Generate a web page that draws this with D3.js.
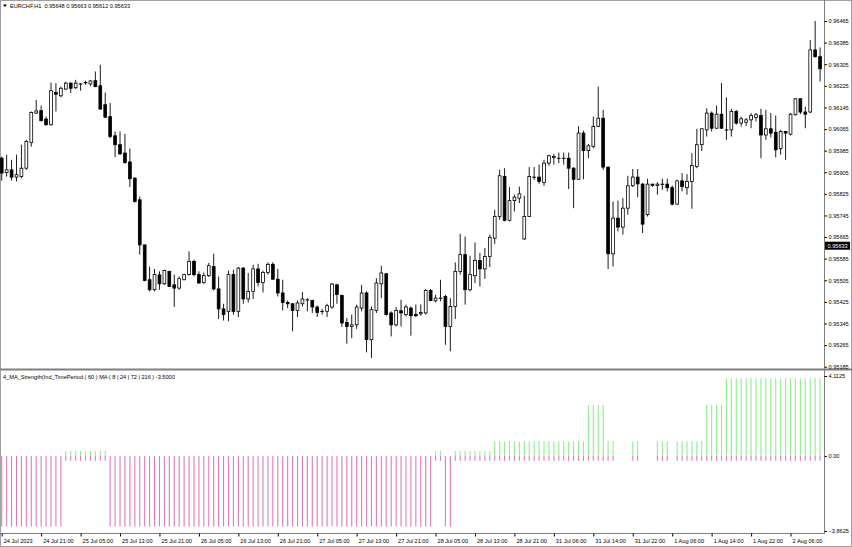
<!DOCTYPE html>
<html>
<head>
<meta charset="utf-8">
<script src="https://cdn.jsdelivr.net/npm/d3@7"></script>
<style>
  body { margin: 0; background: #fff; }
  svg text { font-family: "Liberation Sans", Arial, sans-serif; }
</style>
</head>
<body>
<svg id="chart" width="852" height="547"></svg>
<script>
'use strict';

// EURCHF H1 candles, one entry per bar (24 Jul 13:00 .. 2 Aug 12:00).
var open = [
  0.95957,0.95904,0.95914,0.95887,0.95889,0.95920,0.96015,0.96124,0.96133,0.96102,
  0.96081,0.96200,0.96188,0.96213,0.96235,0.96218,0.96232,0.96237,0.96232,0.96244,
  0.96225,0.96155,0.96111,0.96040,0.96007,0.95976,0.95943,0.95883,0.95803,0.95636,
  0.95507,0.95470,0.95525,0.95492,0.95538,0.95488,0.95476,0.95507,0.95526,0.95575,
  0.95526,0.95497,0.95522,0.95556,0.95473,0.95399,0.95390,0.95526,0.95390,0.95550,
  0.95436,0.95464,0.95547,0.95497,0.95534,0.95564,0.95509,0.95458,0.95423,0.95418,
  0.95393,0.95418,0.95433,0.95430,0.95406,0.95390,0.95390,0.95406,0.95488,0.95449,
  0.95349,0.95334,0.95340,0.95402,0.95458,0.95285,0.95393,0.95492,0.95529,0.95384,
  0.95340,0.95392,0.95378,0.95402,0.95378,0.95381,0.95384,0.95467,0.95429,0.95439,
  0.95445,0.95334,0.95408,0.95538,0.95600,0.95470,0.95522,0.95578,0.95547,0.95593,
  0.95661,0.95741,0.95889,0.95727,0.95800,0.95809,0.95658,0.95741,0.95887,0.95887,
  0.95867,0.95939,0.95960,0.95957,0.95957,0.95957,0.95920,0.95879,0.96050,0.95985,
  0.96000,0.96075,0.96105,0.95924,0.95603,0.95735,0.95702,0.95772,0.95855,0.95887,
  0.95861,0.95748,0.95861,0.95856,0.95861,0.95861,0.95848,0.95787,0.95873,0.95848,
  0.95871,0.95926,0.96007,0.96062,0.96124,0.96068,0.96120,0.96062,0.96062,0.96130,
  0.96087,0.96090,0.96099,0.96108,0.96115,0.96043,0.96066,0.96053,0.95992,0.96056,
  0.96046,0.96118,0.96177,0.96128,0.96128,0.96358,0.96333
];
var high = [
  0.95963,0.95970,0.95951,0.95970,0.96007,0.96025,0.96130,0.96173,0.96152,0.96111,
  0.96237,0.96235,0.96222,0.96240,0.96238,0.96247,0.96235,0.96244,0.96247,0.96278,
  0.96303,0.96200,0.96161,0.96056,0.96056,0.96047,0.95993,0.95887,0.95815,0.95636,
  0.95556,0.95547,0.95538,0.95544,0.95540,0.95526,0.95519,0.95529,0.95612,0.95581,
  0.95538,0.95534,0.95569,0.95603,0.95519,0.95418,0.95541,0.95544,0.95554,0.95554,
  0.95532,0.95563,0.95566,0.95541,0.95571,0.95572,0.95547,0.95507,0.95430,0.95421,
  0.95430,0.95461,0.95439,0.95433,0.95411,0.95399,0.95418,0.95495,0.95492,0.95452,
  0.95365,0.95378,0.95415,0.95488,0.95464,0.95408,0.95513,0.95559,0.95532,0.95390,
  0.95406,0.95433,0.95415,0.95408,0.95415,0.95415,0.95473,0.95473,0.95451,0.95507,
  0.95451,0.95439,0.95571,0.95677,0.95667,0.95596,0.95645,0.95606,0.95624,0.95674,
  0.95766,0.95914,0.95920,0.95850,0.95822,0.95852,0.95818,0.95924,0.95924,0.95933,
  0.95951,0.95970,0.95973,0.95978,0.95978,0.95978,0.95924,0.96075,0.96059,0.96010,
  0.96111,0.96222,0.96136,0.95926,0.95797,0.95800,0.95809,0.95892,0.95917,0.95917,
  0.95865,0.95881,0.95862,0.95868,0.95881,0.95881,0.95856,0.95877,0.95902,0.95898,
  0.95976,0.96066,0.96068,0.96142,0.96130,0.96152,0.96235,0.96182,0.96140,0.96136,
  0.96111,0.96106,0.96124,0.96124,0.96140,0.96136,0.96124,0.96115,0.96062,0.96058,
  0.96124,0.96179,0.96179,0.96148,0.96395,0.96465,0.96367
];
var low = [
  0.95874,0.95889,0.95874,0.95871,0.95883,0.95914,0.96000,0.96121,0.96093,0.96077,
  0.96077,0.96130,0.96183,0.96210,0.96198,0.96213,0.96207,0.96229,0.96225,0.96220,
  0.96136,0.96105,0.96031,0.95961,0.95970,0.95936,0.95850,0.95793,0.95600,0.95501,
  0.95464,0.95464,0.95470,0.95488,0.95481,0.95406,0.95470,0.95505,0.95522,0.95519,
  0.95492,0.95492,0.95517,0.95467,0.95362,0.95356,0.95353,0.95378,0.95369,0.95418,
  0.95423,0.95436,0.95482,0.95460,0.95526,0.95507,0.95445,0.95393,0.95402,0.95316,
  0.95369,0.95408,0.95390,0.95384,0.95369,0.95378,0.95369,0.95399,0.95418,0.95332,
  0.95270,0.95291,0.95325,0.95390,0.95238,0.95217,0.95384,0.95439,0.95374,0.95297,
  0.95334,0.95334,0.95371,0.95300,0.95369,0.95374,0.95378,0.95427,0.95423,0.95427,
  0.95266,0.95242,0.95362,0.95526,0.95415,0.95464,0.95495,0.95482,0.95510,0.95554,
  0.95640,0.95729,0.95723,0.95723,0.95760,0.95791,0.95655,0.95739,0.95877,0.95862,
  0.95855,0.95929,0.95933,0.95939,0.95933,0.95843,0.95772,0.95877,0.95879,0.95957,
  0.95994,0.96072,0.95914,0.95547,0.95556,0.95686,0.95674,0.95748,0.95850,0.95812,
  0.95680,0.95741,0.95851,0.95822,0.95840,0.95834,0.95782,0.95785,0.95834,0.95822,
  0.95770,0.95920,0.95984,0.96037,0.96056,0.96066,0.96066,0.96025,0.96037,0.96081,
  0.96074,0.96077,0.96068,0.96093,0.95957,0.96025,0.96034,0.95960,0.95970,0.95951,
  0.96041,0.96115,0.96120,0.96068,0.96124,0.96329,0.96241
];
var close = [
  0.95902,0.95914,0.95887,0.95896,0.95920,0.96019,0.96126,0.96132,0.96096,0.96081,
  0.96207,0.96194,0.96216,0.96235,0.96216,0.96235,0.96232,0.96237,0.96243,0.96222,
  0.96139,0.96109,0.96037,0.96007,0.95973,0.95941,0.95881,0.95797,0.95636,0.95504,
  0.95470,0.95526,0.95492,0.95541,0.95482,0.95476,0.95511,0.95526,0.95575,0.95526,
  0.95495,0.95522,0.95559,0.95473,0.95399,0.95378,0.95526,0.95390,0.95550,0.95436,
  0.95464,0.95547,0.95497,0.95534,0.95564,0.95509,0.95458,0.95423,0.95418,0.95393,
  0.95421,0.95436,0.95433,0.95406,0.95386,0.95390,0.95411,0.95491,0.95452,0.95347,
  0.95334,0.95340,0.95406,0.95458,0.95285,0.95396,0.95495,0.95532,0.95378,0.95340,
  0.95393,0.95384,0.95406,0.95374,0.95374,0.95386,0.95467,0.95430,0.95439,0.95439,
  0.95334,0.95408,0.95538,0.95600,0.95470,0.95526,0.95578,0.95547,0.95593,0.95664,
  0.95741,0.95892,0.95727,0.95800,0.95813,0.95825,0.95741,0.95889,0.95887,0.95871,
  0.95939,0.95966,0.95963,0.95957,0.95957,0.95920,0.95879,0.96050,0.95985,0.96003,
  0.96075,0.96105,0.95924,0.95603,0.95735,0.95702,0.95772,0.95855,0.95887,0.95862,
  0.95713,0.95861,0.95856,0.95861,0.95861,0.95848,0.95787,0.95873,0.95852,0.95871,
  0.95930,0.96007,0.96066,0.96124,0.96068,0.96120,0.96068,0.96062,0.96130,0.96087,
  0.96103,0.96099,0.96115,0.96118,0.96043,0.96066,0.96050,0.95988,0.96056,0.96050,
  0.96120,0.96177,0.96128,0.96120,0.96358,0.96333,0.96288
];

// 4_MA_Strength histogram buffers (null = nothing drawn on that bar).
var strengthUp = [
  null,null,null,null,null,null,null,null,null,null,
  null,null,null,0.25,0.25,0.25,0.25,0.25,0.25,0.25,
  0.25,0.25,null,null,null,null,null,null,null,null,
  null,null,null,null,null,null,null,null,null,null,
  null,null,null,null,null,null,null,null,null,null,
  null,null,null,null,null,null,null,null,null,null,
  null,null,null,null,null,null,null,null,null,null,
  null,null,null,null,null,null,null,null,null,null,
  null,null,null,null,null,null,null,null,0.25,0.25,
  null,null,0.25,0.25,0.25,0.25,0.25,0.25,0.25,0.25,
  0.75,0.75,0.75,0.75,0.75,0.75,0.75,0.75,0.75,0.75,
  0.75,0.75,0.75,0.75,0.75,0.75,0.75,0.75,0.75,2.625,
  2.625,2.625,2.625,0.75,0.75,null,null,null,0.75,0.75,
  null,null,null,0.75,0.75,0.75,null,0.75,0.75,0.75,
  0.75,0.75,0.75,2.625,2.625,2.625,2.625,4,4,4,
  4,4,4,4,4,4,4,4,4,4,
  4,4,4,4,4,4,4
];
var strengthDown = [
  -3.625,-3.625,-3.625,-3.625,-3.625,-3.625,-3.625,-3.625,-3.625,-3.625,
  -3.625,-3.625,-3.625,-0.25,-0.25,-0.25,-0.25,-0.25,-0.25,-0.25,
  -0.25,-0.25,-3.625,-3.625,-3.625,-3.625,-3.625,-3.625,-3.625,-3.625,
  -3.625,-3.625,-3.625,-3.625,-3.625,-3.625,-3.625,-3.625,-3.625,-3.625,
  -3.625,-3.625,-3.625,-3.625,-3.625,-3.625,-3.625,-3.625,-3.625,-3.625,
  -3.625,-3.625,-3.625,-3.625,-3.625,-3.625,-3.625,-3.625,-3.625,-3.625,
  -3.625,-3.625,-3.625,-3.625,-3.625,-3.625,-3.625,-3.625,-3.625,-3.625,
  -3.625,-3.625,-3.625,-3.625,-3.625,-3.625,-3.625,-3.625,-3.625,-3.625,
  -3.625,-3.625,-3.625,-3.625,-3.625,-3.625,-3.625,-3.625,-0.25,-0.25,
  -3.625,-3.625,-0.25,-0.25,-0.25,-0.25,-0.25,-0.25,-0.25,-0.25,
  -0.25,-0.25,-0.25,-0.25,-0.25,-0.25,-0.25,-0.25,-0.25,-0.25,
  -0.25,-0.25,-0.25,-0.25,-0.25,-0.25,-0.25,-0.25,-0.25,-0.25,
  -0.25,-0.25,-0.25,-0.25,-0.25,null,null,null,-0.25,-0.25,
  null,null,null,-0.25,-0.25,-0.25,null,-0.25,-0.25,-0.25,
  -0.25,-0.25,-0.25,-0.25,-0.25,-0.25,-0.25,-0.25,-0.25,-0.25,
  -0.25,-0.25,-0.25,-0.25,-0.25,-0.25,-0.25,-0.25,-0.25,-0.25,
  -0.25,-0.25,-0.25,-0.25,-0.25,-0.25,-0.25
];

var priceTicks = [
  0.96465,0.96385,0.96305,0.96225,0.96145,0.96065,0.95985,0.95905,0.95825,
  0.95745,0.95665,0.95585,0.95505,0.95425,0.95345,0.95265,0.95185
];
var indicatorTicks = [4.1125, 0, -3.8625];
var timeTickBars = [0,8,16,24,32,40,48,56,64,72,80,88,96,104,112,120,128,136,144,152,160];
var timeLabels = [
  '24 Jul 2023','24 Jul 21:00','25 Jul 05:00','25 Jul 13:00','25 Jul 21:00',
  '26 Jul 05:00','26 Jul 13:00','26 Jul 21:00','27 Jul 05:00','27 Jul 13:00',
  '27 Jul 21:00','28 Jul 05:00','28 Jul 13:00','28 Jul 21:00','31 Jul 06:00',
  '31 Jul 14:00','31 Jul 22:00','1 Aug 06:00','1 Aug 14:00','1 Aug 22:00','2 Aug 06:00'
];
var symbolTitle = 'EURCHF,H1  0.95648 0.95663 0.95612 0.95633',
    indicatorTitle = '4_MA_Strength(Ind_TimePeriod ( 60 ) MA ( 8 | 24 | 72 | 216 ) -3.5000',
    lastPrice = 0.95633;

var frame     = '#808080',
    bullFill  = '#ffffff',
    bearFill  = '#000000',
    upColor   = '#8cf08c',
    downColor = '#e07ab8';

var svg = d3.select( '#chart' );

var x    = d3.scaleLinear().domain( [ 0, open.length - 1 ] ).range( [ 1.7, 820.1 ] ),
    y    = d3.scaleLinear().domain( [ 0.95185, 0.96465 ] ).range( [ 366.7, 21 ] ),
    yInd = d3.scaleLinear().domain( [ -3.8625, 4.1125 ] ).range( [ 531, 376 ] );

var bars = d3.range( open.length );

// Window frame and pane separator.
svg.append( 'rect' )
  .attr( 'x', 0.5 ).attr( 'y', 0.5 )
  .attr( 'width', 851 ).attr( 'height', 546 )
  .style( 'fill', 'none' ).style( 'stroke', '#a0a0a0' );

svg.append( 'line' )
  .attr( 'x1', 0 ).attr( 'x2', 852 )
  .attr( 'y1', 369.5 ).attr( 'y2', 369.5 )
  .style( 'stroke', frame ).style( 'stroke-width', 2 );

svg.append( 'line' )
  .attr( 'x1', 824.5 ).attr( 'x2', 824.5 )
  .attr( 'y1', 0 ).attr( 'y2', 534 )
  .style( 'stroke', frame );

// Candles: wick first, body on top.
var candle = svg.append( 'g' ).selectAll( 'g' )
  .data( bars )
  .enter().append( 'g' );

candle.append( 'line' )
  .attr( 'x1', function( i ) { return x( i ); } )
  .attr( 'x2', function( i ) { return x( i ); } )
  .attr( 'y1', function( i ) { return y( high[ i ] ); } )
  .attr( 'y2', function( i ) { return y( low[ i ] ); } )
  .style( 'stroke', '#000' )
  .style( 'stroke-width', 0.9 );

candle.append( 'rect' )
  .attr( 'x', function( i ) { return x( i ) - 1.4; } )
  .attr( 'width', 2.8 )
  .attr( 'y', function( i ) { return y( Math.max( open[ i ], close[ i ] ) ); } )
  .attr( 'height', function( i ) {
    return Math.max( Math.abs( y( open[ i ] ) - y( close[ i ] ) ), 0.3 );
  })
  .style( 'fill', function( i ) { return close[ i ] >= open[ i ] ? bullFill : bearFill; } )
  .style( 'stroke', '#000' )
  .style( 'stroke-width', 0.8 );

// Price axis.
var priceAxis = svg.append( 'g' )
  .attr( 'transform', 'translate(824.5,0)' )
  .call( d3.axisRight( y ).tickValues( priceTicks ).tickSize( 2.5 ).tickPadding( 1.5 )
    .tickFormat( d3.format( '.5f' ) ) );
priceAxis.select( '.domain' ).remove();
priceAxis.selectAll( 'line' ).style( 'stroke', '#000' );
priceAxis.selectAll( 'text' ).style( 'font-size', '5.6px' ).style( 'fill', '#000' );

// Current price box.
var box = svg.append( 'g' ).attr( 'transform', 'translate(825,' + y( lastPrice ) + ')' );
box.append( 'rect' )
  .attr( 'x', 0 ).attr( 'y', -4 )
  .attr( 'width', 25 ).attr( 'height', 8 )
  .style( 'fill', '#000' );
box.append( 'text' )
  .attr( 'x', 2.5 ).attr( 'y', 2 )
  .style( 'font-size', '5.6px' ).style( 'fill', '#fff' )
  .text( d3.format( '.5f' )( lastPrice ) );

// Indicator histogram.
var hist = svg.append( 'g' );
hist.selectAll( 'line.down' )
  .data( bars.filter( function( i ) { return strengthDown[ i ] !== null; } ) )
  .enter().append( 'line' )
    .attr( 'class', 'down' )
    .attr( 'x1', function( i ) { return x( i ); } )
    .attr( 'x2', function( i ) { return x( i ); } )
    .attr( 'y1', yInd( 0 ) )
    .attr( 'y2', function( i ) { return yInd( strengthDown[ i ] ); } )
    .style( 'stroke', downColor )
    .style( 'stroke-width', 1.1 );

hist.selectAll( 'line.up' )
  .data( bars.filter( function( i ) { return strengthUp[ i ] !== null; } ) )
  .enter().append( 'line' )
    .attr( 'class', 'up' )
    .attr( 'x1', function( i ) { return x( i ); } )
    .attr( 'x2', function( i ) { return x( i ); } )
    .attr( 'y1', yInd( 0 ) )
    .attr( 'y2', function( i ) { return yInd( strengthUp[ i ] ); } )
    .style( 'stroke', upColor )
    .style( 'stroke-width', 1.1 );

var indAxis = svg.append( 'g' )
  .attr( 'transform', 'translate(824.5,0)' )
  .call( d3.axisRight( yInd ).tickValues( indicatorTicks ).tickSize( 2.5 ).tickPadding( 1.5 )
    .tickFormat( function( d ) { return d === 0 ? '0.00' : d3.format( '.4f' )( d ); } ) );
indAxis.select( '.domain' ).remove();
indAxis.selectAll( 'line' ).style( 'stroke', '#000' );
indAxis.selectAll( 'text' ).style( 'font-size', '5.6px' ).style( 'fill', '#000' );

// Time axis.
var timeAxis = svg.append( 'g' )
  .attr( 'transform', 'translate(0,533.5)' )
  .call( d3.axisBottom( x ).tickValues( timeTickBars ).tickSize( 3 )
    .tickFormat( function( d, i ) { return timeLabels[ i ]; } ) );
timeAxis.select( '.domain' ).attr( 'd', 'M0,0H824.5' ).style( 'stroke', frame );
timeAxis.selectAll( 'line' ).style( 'stroke', '#000' );
timeAxis.selectAll( 'text' )
  .attr( 'y', 9 ).attr( 'dy', 0 ).attr( 'x', 1.5 )
  .style( 'text-anchor', 'start' )
  .style( 'font-size', '5.6px' ).style( 'fill', '#000' );

// Window titles.
svg.append( 'path' )
  .attr( 'd', 'M3,4.5L7,4.5L5,7Z' )
  .style( 'fill', '#000' );
svg.append( 'text' )
  .attr( 'x', 10 ).attr( 'y', 8 )
  .style( 'font-size', '5.6px' ).style( 'white-space', 'pre' )
  .text( symbolTitle );
svg.append( 'text' )
  .attr( 'x', 3 ).attr( 'y', 379 )
  .style( 'font-size', '5.6px' ).style( 'white-space', 'pre' )
  .text( indicatorTitle );
</script>
</body>
</html>
